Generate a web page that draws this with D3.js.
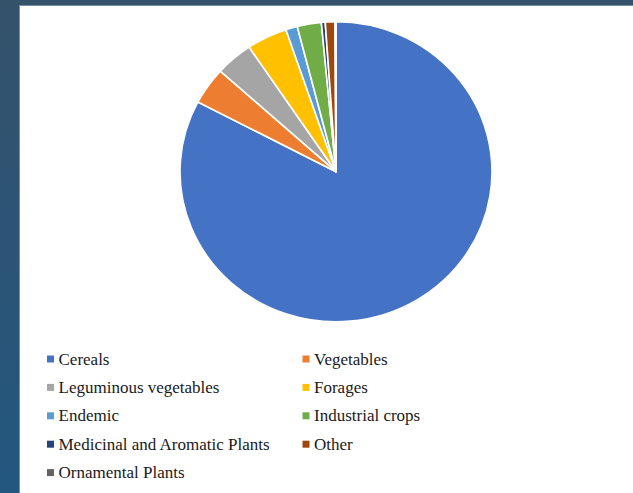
<!DOCTYPE html>
<html>
<head>
<meta charset="utf-8">
<script src="https://cdn.jsdelivr.net/npm/d3@7"></script>
<style>
  html, body { margin: 0; padding: 0; }
  body { width: 633px; height: 493px; overflow: hidden; }
</style>
</head>
<body>
<svg id="chart" width="633" height="493"></svg>
<script>
// Share of accessions by crop group (%)
const categories = [
  "Cereals", "Vegetables", "Leguminous vegetables", "Forages", "Endemic",
  "Industrial crops", "Medicinal and Aromatic Plants", "Other", "Ornamental Plants"
];
const values = [82.7, 4.0, 3.9, 4.2, 1.2, 2.5, 0.4, 1.0, 0.1];
const colors = [
  "#4472C4", "#ED7D31", "#A5A5A5", "#FFC000", "#5B9BD5",
  "#70AD47", "#264478", "#9E480E", "#636363"
];

const svg = d3.select("#chart");

// Slide frame: dark blue backdrop with a white panel
const defs = svg.append("defs");
const grad = defs.append("linearGradient")
  .attr("id", "bg").attr("x1", 0).attr("y1", 0).attr("x2", 0).attr("y2", 1);
grad.append("stop").attr("offset", 0).attr("stop-color", "#35526b");
grad.append("stop").attr("offset", 1).attr("stop-color", "#23577f");
svg.append("rect").attr("width", 633).attr("height", 493).attr("fill", "url(#bg)");
svg.append("rect").attr("x", 19).attr("y", 5).attr("width", 614).attr("height", 488)
  .attr("fill", "#7890a6");
svg.append("rect").attr("x", 20).attr("y", 6).attr("width", 613).attr("height", 487)
  .attr("fill", "#ffffff");

// Pie
const cx = 336, cy = 171.7, r = 150, sx = 1.04;
const data = categories.map((c, i) => ({ name: c, value: values[i], color: colors[i] }));
const pie = d3.pie().value(d => d.value).sort(null);
const arc = d3.arc().innerRadius(0).outerRadius(r);

svg.append("g")
  .attr("transform", `translate(${cx},${cy}) scale(${sx},1)`)
  .selectAll("path")
  .data(pie(data))
  .join("path")
  .attr("d", arc)
  .attr("fill", d => d.data.color)
  .attr("stroke", "#ffffff")
  .attr("stroke-width", 1.6)
  .attr("stroke-linejoin", "round");

// Legend, two columns
const colX = [47, 302.5];
const rowY0 = 359, rowStep = 28.4;
const legend = svg.append("g");

const items = legend.selectAll("g")
  .data(data)
  .join("g")
  .attr("transform", (d, i) => `translate(${colX[i % 2]},${rowY0 + Math.floor(i / 2) * rowStep})`);

items.append("rect")
  .attr("x", 0).attr("y", -3.5).attr("width", 7).attr("height", 7)
  .attr("fill", d => d.color);

items.append("text")
  .attr("x", 11.5).attr("y", 5.5)
  .style("font-family", '"Liberation Serif"')
  .style("font-size", "17px")
  .style("fill", "#1a1a1a")
  .text(d => d.name);
</script>
</body>
</html>
